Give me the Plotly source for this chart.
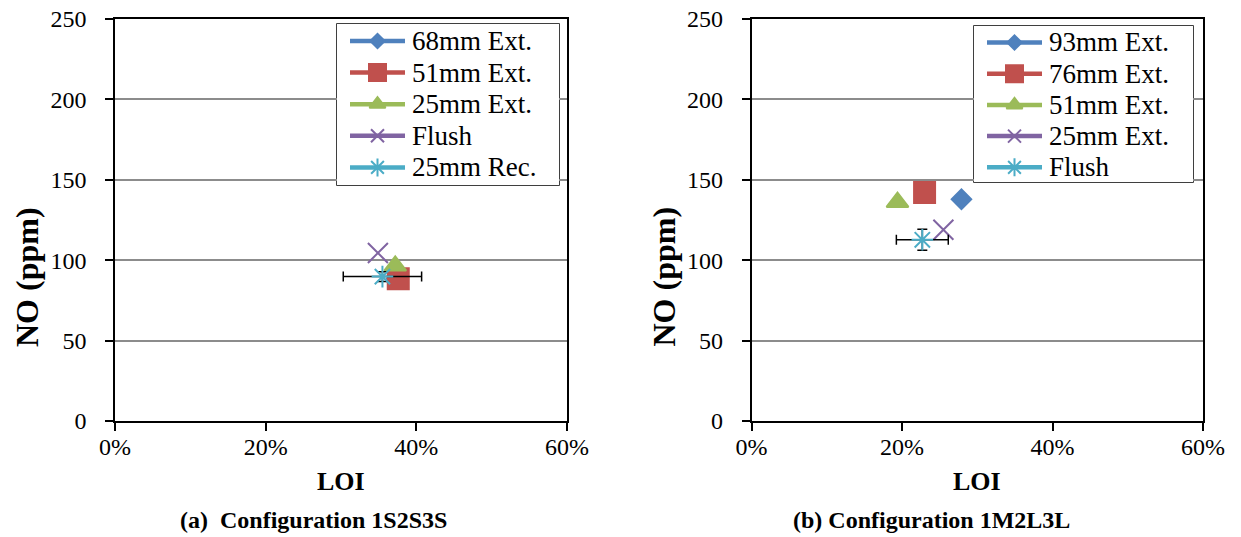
import plotly.graph_objects as go

# ---- data: LOI (fraction) and NO (ppm) for each nozzle setting ----
names_a = ["68mm Ext.", "51mm Ext.", "25mm Ext.", "Flush", "25mm Rec."]
loi_a = [0.374, 0.376, 0.372, 0.349, 0.355]
no_a = [88.5, 88.4, 96.5, 104.5, 89.8]
loi_err_a = 0.052
no_err_a = 3.0

names_b = ["93mm Ext.", "76mm Ext.", "51mm Ext.", "25mm Ext.", "Flush"]
loi_b = [0.279, 0.230, 0.194, 0.255, 0.227]
no_b = [137.9, 142.1, 136.1, 118.9, 112.7]
loi_err_b = 0.0345
no_err_b = 6.5

x_ticks = [0, 0.2, 0.4, 0.6]
x_tick_text = ["0%", "20%", "40%", "60%"]
y_ticks = [0, 50, 100, 150, 200, 250]

subtitles = ["(a)  Configuration 1S2S3S", "(b) Configuration 1M2L3L"]

# ---- styles ----
colors = ["#4F81BD", "#C0504D", "#9BBB59", "#8064A2", "#4BACC6"]
symbols = ["diamond", "square", "triangle-up", "x-thin-open", "asterisk-open"]
sizes = [15, 21, 19, 20, 18]
legend_sizes = [11, 17, 14, 13, 15]
FONT = "Liberation Serif"

W, H = 1241, 537

# plot-area extents in pixels
left_px = [(115, 567), (751.5, 1203)]
top_px, bot_px = 19, 421
# legend boxes in pixels: (left, right, top, bottom), first row centre, row step
legend_boxes = [(337, 559, 24, 185, 17, 31.6), (974, 1193, 26, 182, 16.5, 31.2)]
legend_line = (13, 68)
legend_text_x = 73

fig = go.Figure()


def px_x(p):
    return p / W


def px_y(p):
    return 1 - p / H


def add_panel(k, names, xs, ys, xerr, yerr):
    sx = "" if k == 0 else str(k + 1)
    lx = str(k + 3)
    bl, br, bt, bb, row0, step = legend_boxes[k]
    for i, (n, x, y) in enumerate(zip(names, xs, ys)):
        kw = {}
        if i == len(names) - 1:
            kw["error_x"] = dict(type="constant", value=xerr, color="black",
                                 thickness=1.5, width=5)
            kw["error_y"] = dict(type="constant", value=yerr, color="black",
                                 thickness=1.5, width=5)
        fig.add_trace(go.Scatter(
            x=[x], y=[y], name=n, mode="markers", showlegend=False,
            xaxis="x" + sx, yaxis="y" + sx,
            marker=dict(symbol=symbols[i], size=sizes[i], color=colors[i],
                        line=dict(color=colors[i], width=2)),
            **kw))
        # legend entry: line sample with the series marker in its middle
        ry = row0 + step * i
        fig.add_trace(go.Scatter(
            x=list(legend_line), y=[ry, ry], mode="lines", showlegend=False,
            hoverinfo="skip", xaxis="x" + lx, yaxis="y" + lx,
            line=dict(color=colors[i], width=4.5)))
        fig.add_trace(go.Scatter(
            x=[sum(legend_line) / 2], y=[ry], mode="markers",
            showlegend=False, hoverinfo="skip", xaxis="x" + lx, yaxis="y" + lx,
            marker=dict(symbol=symbols[i], size=legend_sizes[i],
                        color=colors[i], line=dict(color=colors[i], width=2))))
        fig.add_annotation(
            text=n, x=legend_text_x, y=ry, xref="x" + lx, yref="y" + lx,
            xanchor="left", yanchor="middle", showarrow=False,
            font=dict(family=FONT, size=27, color="black"))


axis_common = dict(showline=True, linecolor="black", linewidth=1.5,
                   mirror=True, ticks="outside", ticklen=8, tickwidth=1.5,
                   tickcolor="black", zeroline=False, automargin=False,
                   tickfont=dict(family=FONT, size=24, color="black"))

layout = dict(
    template="none",
    width=W, height=H, autosize=False,
    margin=dict(l=0, r=0, t=0, b=0, pad=0, autoexpand=False),
    paper_bgcolor="white", plot_bgcolor="white",
    font=dict(family=FONT, size=23, color="black"),
    showlegend=False,
)
for k, (l, r) in enumerate(left_px):
    sx = "" if k == 0 else "2"
    layout["xaxis" + sx] = dict(
        domain=[px_x(l), px_x(r)], range=[0, 0.6],
        tickvals=x_ticks, ticktext=x_tick_text, showgrid=False,
        anchor="y" + sx, ticklabelstandoff=-5, **axis_common)
    layout["yaxis" + sx] = dict(
        domain=[px_y(bot_px), px_y(top_px)], range=[0, 250],
        tickvals=y_ticks, showgrid=True, gridcolor="#8c8c8c", gridwidth=1.5,
        anchor="x" + sx, ticklabelstandoff=14, **axis_common)

# legend panels: pixel-unit axes laid over each plot's upper-right corner
shapes = []
for k, (bl, br, bt, bb, _, _) in enumerate(legend_boxes):
    lx = str(k + 3)
    layout["xaxis" + lx] = dict(domain=[px_x(bl), px_x(br)], range=[0, br - bl],
                               visible=False, fixedrange=True,
                               anchor="y" + lx)
    layout["yaxis" + lx] = dict(domain=[px_y(bb), px_y(bt)], range=[bb - bt, 0],
                               visible=False, fixedrange=True,
                               anchor="x" + lx)
    shapes.append(dict(type="rect", xref="x" + lx + " domain",
                       yref="y" + lx + " domain", x0=0, x1=1, y0=0, y1=1,
                       fillcolor="white", line=dict(color="black", width=1.5),
                       layer="below"))
layout["shapes"] = shapes

fig.update_layout(**layout)

add_panel(0, names_a, loi_a, no_a, loi_err_a, no_err_a)
add_panel(1, names_b, loi_b, no_b, loi_err_b, no_err_b)


def label(text, xp, yp, size, angle=0):
    fig.add_annotation(
        text=text, x=px_x(xp), y=px_y(yp), xref="paper", yref="paper",
        xanchor="center", yanchor="middle", showarrow=False,
        textangle=angle, font=dict(family=FONT, size=size, color="black"))


for k, (l, r) in enumerate(left_px):
    label("<b>LOI</b>", (l + r) / 2, 481, 26)
    label("<b>NO (ppm)</b>", l - 88, 277, 32, -90)
label("<b>" + subtitles[0] + "</b>", 313, 520, 24)
label("<b>" + subtitles[1] + "</b>", 931, 520, 24)

fig.write_html("out.html")
